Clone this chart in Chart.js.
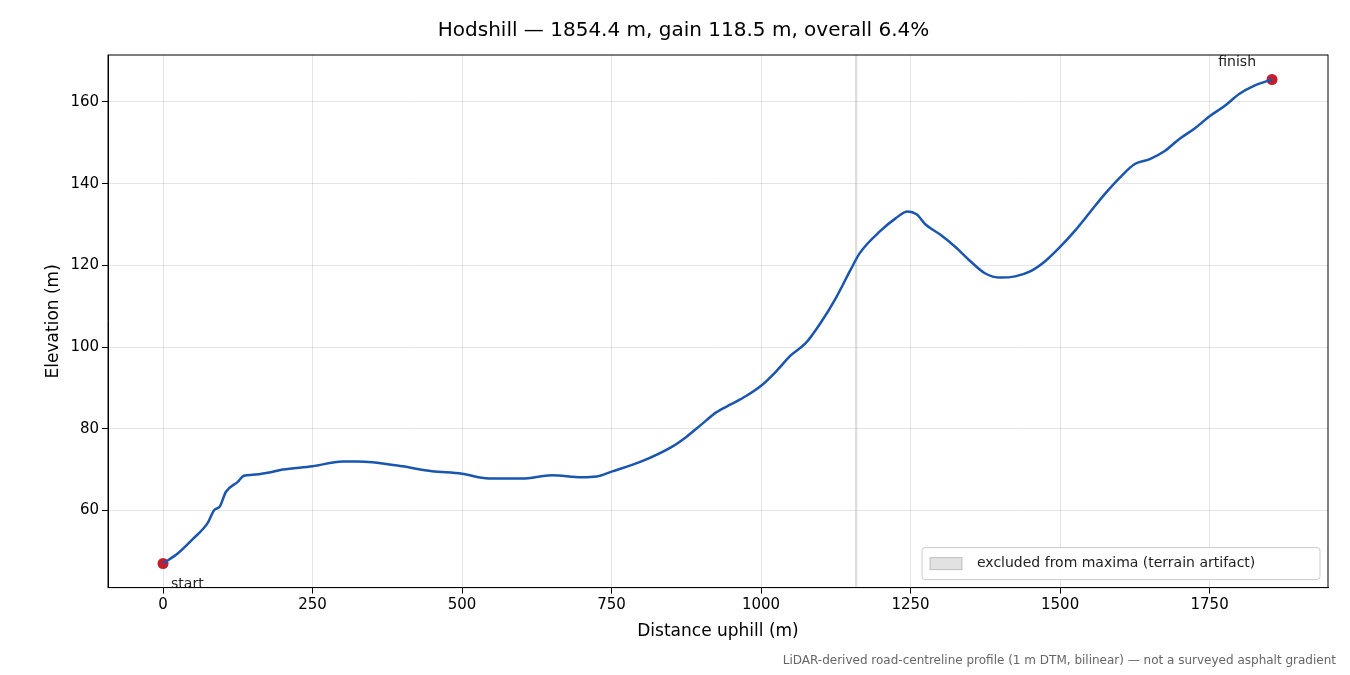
<!DOCTYPE html>
<html><head><meta charset="utf-8">
<script src="https://cdn.jsdelivr.net/npm/chart.js@4"></script>
<style>body{margin:0;background:#fff}#wrap{width:1350px;height:675px;position:relative}
#foot{position:absolute;right:14px;bottom:8px;font:12px "DejaVu Sans";color:#666}</style>
</head><body><div id="wrap"><canvas id="c" width="1350" height="675"></canvas>
<div id="foot">LiDAR-derived road-centreline profile (1 m DTM, bilinear) — not a surveyed asphalt gradient</div></div>
<script>
const distances = [0,25,50,75,85,95,105,125,135,150,175,200,250,300,325,350,400,450,500,525,550,600,650,700,725,750,800,850,875,900,925,950,975,1000,1025,1050,1075,1100,1125,1150,1165,1200,1225,1245,1260,1275,1300,1325,1350,1375,1400,1425,1450,1475,1500,1525,1550,1575,1600,1625,1650,1675,1700,1725,1750,1775,1800,1825,1854.4];
const elevations = [47,49.5,53,57,60,61,64.5,67,68.5,68.7,69.2,70,70.8,72,72,71.8,70.8,69.6,69,68.2,67.8,67.8,68.6,68.1,68.3,69.5,72,75.5,78,81,84,86,88,90.5,94,98,101,106,112,119,123,128.5,131.5,133.2,132.5,130,127.5,124.5,121,118,117,117.3,118.5,121,124.5,128.5,133,137.5,141.5,144.8,146,148,151,153.5,156.5,159,162,164,165.5];
const excluded = [1157, 1161];
const xTicks = [0,250,500,750,1000,1250,1500,1750];
const yTicks = [60,80,100,120,140,160];

const F = '"DejaVu Sans"';
const extras = {
  id: 'extras',
  beforeDatasetsDraw(ch) {
    const {ctx, chartArea: a, scales: {x}} = ch;
    ctx.save();
    ctx.fillStyle = 'rgba(160,160,160,0.35)';
    const x0 = x.getPixelForValue(excluded[0]), x1 = x.getPixelForValue(excluded[1]);
    ctx.fillRect(x0, a.top, x1 - x0, a.bottom - a.top);
    ctx.restore();
  },
  afterDatasetsDraw(ch) {
    const {ctx, chartArea: a, scales: {x, y}} = ch;
    ctx.save();
    ctx.font = '14px ' + F; ctx.fillStyle = '#222';
    ctx.fillText('start', x.getPixelForValue(distances[0]) + 8, y.getPixelForValue(elevations[0]) + 24);
    ctx.textAlign = 'right';
    ctx.fillText('finish', x.getPixelForValue(distances[distances.length-1]) - 16, y.getPixelForValue(elevations[elevations.length-1]) - 14);
    // legend
    const lw = 398, lh = 32, lx = a.right - lw - 8, ly = a.bottom - lh - 8;
    ctx.fillStyle = 'rgba(255,255,255,0.85)'; ctx.strokeStyle = '#ccc'; ctx.lineWidth = 1;
    ctx.beginPath(); ctx.roundRect(lx, ly, lw, lh, 3); ctx.fill(); ctx.stroke();
    ctx.fillStyle = 'rgba(160,160,160,0.3)'; ctx.strokeStyle = 'rgba(140,140,140,0.5)';
    ctx.fillRect(lx + 8, ly + 10, 32, 12); ctx.strokeRect(lx + 8, ly + 10, 32, 12);
    ctx.fillStyle = '#222'; ctx.textAlign = 'left'; ctx.textBaseline = 'middle';
    ctx.fillText('excluded from maxima (terrain artifact)', lx + 55, ly + 16);
    ctx.restore();
  }
};

new Chart(document.getElementById('c'), {
  type: 'line',
  data: { datasets: [
    { data: distances.map((d, i) => ({x: d, y: elevations[i]})), borderColor: '#1a56b0', borderWidth: 2.5, pointRadius: 0, tension: 0.4, cubicInterpolationMode: 'monotone' },
    { data: [{x: distances[0], y: elevations[0]}, {x: distances[distances.length-1], y: elevations[elevations.length-1]}], showLine: false, pointRadius: 5.5, pointBackgroundColor: '#c41e2a', pointBorderWidth: 0 }
  ]},
  options: {
    responsive: false, animation: false,
    layout: { padding: {left: 39, right: 22, top: 19, bottom: 29} },
    plugins: {
      legend: {display: false}, tooltip: {enabled: false},
      title: {display: true, text: 'Hodshill — 1854.4 m, gain 118.5 m, overall 6.4%', color: '#000', font: {family: F, size: 20, weight: 'normal'}, padding: {bottom: 12}}
    },
    scales: {
      x: { type: 'linear', min: -92, max: 1948, afterBuildTicks: s => { s.ticks = xTicks.map(v => ({value: v})); },
        grid: {color: 'rgba(0,0,0,0.1)', drawTicks: true, tickColor: '#000', tickLength: 6}, border: {color: '#000'},
        ticks: {color: '#000', font: {family: F, size: 15}, callback: v => String(v)},
        title: {display: true, text: 'Distance uphill (m)', color: '#000', font: {family: F, size: 17}} },
      y: { min: 41.1, max: 171.5, afterBuildTicks: s => { s.ticks = yTicks.map(v => ({value: v})); },
        grid: {color: 'rgba(0,0,0,0.1)', tickColor: '#000', tickLength: 6}, border: {color: '#000'},
        ticks: {color: '#000', font: {family: F, size: 15}, callback: v => String(v)},
        title: {display: true, text: 'Elevation (m)', color: '#000', font: {family: F, size: 17}} }
    }
  },
  plugins: [extras, {
    id: 'frame', afterDraw(ch) { const {ctx, chartArea: a} = ch; ctx.save(); ctx.strokeStyle = '#000'; ctx.lineWidth = 1; ctx.strokeRect(a.left, a.top, a.right - a.left, a.bottom - a.top); ctx.restore(); }
  }]
});
</script></body></html>
